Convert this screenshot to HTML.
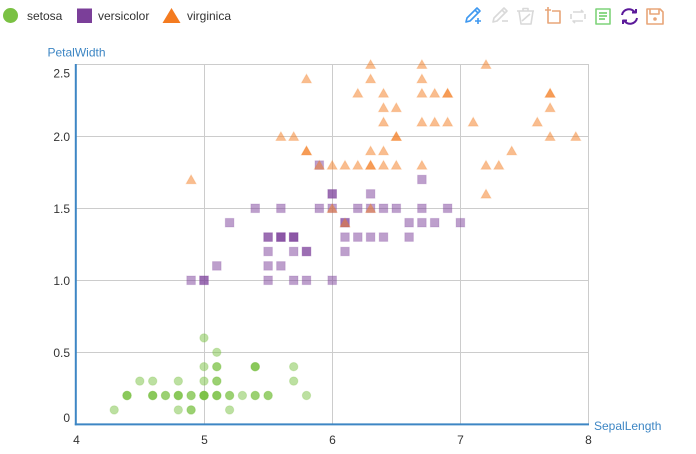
<!DOCTYPE html>
<html><head><meta charset="utf-8"><style>
html,body{margin:0;padding:0;background:#fff;}
svg{display:block;font-family:"Liberation Sans",sans-serif;}
.s{fill:#7ac143;fill-opacity:.5;stroke:#7ac143;stroke-opacity:.25;stroke-width:1}
.v{fill:#7b3f99;fill-opacity:.5;stroke:#7b3f99;stroke-opacity:.2;stroke-width:1}
.g{fill:#f47b20;fill-opacity:.5;stroke:#f47b20;stroke-opacity:.2;stroke-width:1}
</style></head><body>
<svg width="696" height="454" viewBox="0 0 696 454" xmlns="http://www.w3.org/2000/svg">
<defs>
<circle id="c" cx="0" cy="0" r="4.2"/>
<rect id="q" x="-4.3" y="-4.3" width="8.6" height="8.6"/>
<path id="t" d="M0,-4.6 L5,4.2 L-5,4.2 Z"/>
</defs>
<!-- legend -->
<circle cx="10.5" cy="15.5" r="7.5" fill="#7ac143"/>
<text x="27" y="20" font-size="12" fill="#333">setosa</text>
<rect x="77" y="8.5" width="15" height="14.5" fill="#7b3f99"/>
<text x="98" y="20" font-size="12" fill="#333">versicolor</text>
<path d="M171.5,8 L180.5,23 L162.5,23 Z" fill="#f47b20"/>
<text x="187" y="20" font-size="12" fill="#333">virginica</text>
<!-- toolbar -->
<g fill="none" stroke-width="1.6" stroke-linejoin="round">
<g stroke="#3e98f0"><path d="M466,22 L467,18 L477,8 L480,11 L470,21 Z M475,10 L478,13 M466,22 L469.5,21"/><path d="M478,18 V24 M475,21 H481"/></g>
<g stroke="#d9d9d9"><path d="M493,22 L494,18 L504,8 L507,11 L497,21 Z M502,10 L505,13"/><path d="M502,21 H508"/></g>
<g stroke="#d9d9d9"><path d="M517,11 H534 M523,11 V8.5 H528 V11 M519,11 L521,24 H531 L533,11 M522,21 L530,14"/></g>
<g stroke="#e8a578"><path d="M548,12 V23 H560 V11 H552 M545,10 H551 M548,7 V13"/></g>
<g stroke="#d9d9d9"><path d="M573,12 H583 L581,10 M583,21 H573 L575,23 M571,14 V19 M585,14 V19"/></g>
<g stroke="#7fd37a"><rect x="596" y="9" width="14" height="15"/><path d="M599,13 H607 M599,16 H607 M599,19 H605" stroke-width="1.8"/></g>
<g stroke="#5b1a9a" stroke-width="2"><path d="M622,15 A7,6.5 0 0 1 635,12.5 M637,18 A7,6.5 0 0 1 624,20.5"/><path d="M632,12.5 H636 V9 M627,20.5 H623 V24"/></g>
<g stroke="#e8a578"><path d="M647,9 H660 L663,12 V24 H647 Z M650,9 V14 H659 V9"/><circle cx="655" cy="19" r="1" fill="#e8a578"/></g>
</g>
<!-- grid -->
<g stroke="#cccccc" stroke-width="1" fill="none">
<path d="M76,64.5 H589 M76,136.5 H589 M76,208.5 H589 M76,280.5 H589 M76,352.5 H589"/>
<path d="M204.5,64 V424 M332.5,64 V424 M460.5,64 V424 M588.5,64 V424"/>
</g>
<!-- axes -->
<path d="M75.8,64 V425.3" stroke="#3d86c4" stroke-width="2"/>
<path d="M74.8,424.4 H589" stroke="#3d86c4" stroke-width="2"/>
<g font-size="12" fill="#333" text-anchor="end">
<text x="70" y="77.5">2.5</text>
<text x="70" y="140.8">2.0</text>
<text x="70" y="212.8">1.5</text>
<text x="70" y="284.8">1.0</text>
<text x="70" y="356.8">0.5</text>
<text x="70" y="421.8">0</text>
</g>
<g font-size="12" fill="#333" text-anchor="middle">
<text x="76.5" y="444">4</text>
<text x="204.5" y="444">5</text>
<text x="332.5" y="444">6</text>
<text x="460.5" y="444">7</text>
<text x="588.5" y="444">8</text>
</g>
<text x="76.5" y="56.5" font-size="12" fill="#3d86c4" text-anchor="middle">PetalWidth</text>
<text x="594" y="430" font-size="12" fill="#3d86c4">SepalLength</text>
<!-- setosa -->
<g class="s">
<use href="#c" x="216.8" y="395.5"/><use href="#c" x="191.1" y="395.5"/><use href="#c" x="165.5" y="395.5"/><use href="#c" x="152.7" y="395.5"/><use href="#c" x="204" y="395.5"/>
<use href="#c" x="255.2" y="366.7"/><use href="#c" x="152.7" y="381.1"/><use href="#c" x="204" y="395.5"/><use href="#c" x="127" y="395.5"/><use href="#c" x="191.1" y="409.9"/>
<use href="#c" x="255.2" y="395.5"/><use href="#c" x="178.3" y="395.5"/><use href="#c" x="178.3" y="409.9"/><use href="#c" x="114.2" y="409.9"/><use href="#c" x="306.5" y="395.5"/>
<use href="#c" x="293.7" y="366.7"/><use href="#c" x="255.2" y="366.7"/><use href="#c" x="216.8" y="381.1"/><use href="#c" x="293.7" y="381.1"/><use href="#c" x="216.8" y="381.1"/>
<use href="#c" x="255.2" y="395.5"/><use href="#c" x="216.8" y="366.7"/><use href="#c" x="152.7" y="395.5"/><use href="#c" x="216.8" y="352.3"/><use href="#c" x="178.3" y="395.5"/>
<use href="#c" x="204" y="395.5"/><use href="#c" x="204" y="366.7"/><use href="#c" x="229.6" y="395.5"/><use href="#c" x="229.6" y="395.5"/><use href="#c" x="165.5" y="395.5"/>
<use href="#c" x="178.3" y="395.5"/><use href="#c" x="255.2" y="366.7"/><use href="#c" x="229.6" y="409.9"/><use href="#c" x="268.1" y="395.5"/><use href="#c" x="191.1" y="395.5"/>
<use href="#c" x="204" y="395.5"/><use href="#c" x="268.1" y="395.5"/><use href="#c" x="191.1" y="409.9"/><use href="#c" x="127" y="395.5"/><use href="#c" x="216.8" y="395.5"/>
<use href="#c" x="204" y="381.1"/><use href="#c" x="139.8" y="381.1"/><use href="#c" x="127" y="395.5"/><use href="#c" x="204" y="337.9"/><use href="#c" x="216.8" y="366.7"/>
<use href="#c" x="178.3" y="381.1"/><use href="#c" x="216.8" y="395.5"/><use href="#c" x="152.7" y="395.5"/><use href="#c" x="242.4" y="395.5"/><use href="#c" x="204" y="395.5"/>
</g>
<!-- versicolor -->
<g class="v">
<use href="#q" x="460.4" y="222.7"/><use href="#q" x="383.5" y="208.3"/><use href="#q" x="447.6" y="208.3"/><use href="#q" x="268.1" y="237.1"/><use href="#q" x="396.3" y="208.3"/>
<use href="#q" x="293.7" y="237.1"/><use href="#q" x="370.6" y="193.9"/><use href="#q" x="191.1" y="280.3"/><use href="#q" x="409.1" y="237.1"/><use href="#q" x="229.6" y="222.7"/>
<use href="#q" x="204" y="280.3"/><use href="#q" x="319.3" y="208.3"/><use href="#q" x="332.2" y="280.3"/><use href="#q" x="345" y="222.7"/><use href="#q" x="280.9" y="237.1"/>
<use href="#q" x="421.9" y="222.7"/><use href="#q" x="280.9" y="208.3"/><use href="#q" x="306.5" y="280.3"/><use href="#q" x="357.8" y="208.3"/><use href="#q" x="280.9" y="265.9"/>
<use href="#q" x="319.3" y="165.1"/><use href="#q" x="345" y="237.1"/><use href="#q" x="370.6" y="208.3"/><use href="#q" x="345" y="251.5"/><use href="#q" x="383.5" y="237.1"/>
<use href="#q" x="409.1" y="222.7"/><use href="#q" x="434.7" y="222.7"/><use href="#q" x="421.9" y="179.5"/><use href="#q" x="332.2" y="208.3"/><use href="#q" x="293.7" y="280.3"/>
<use href="#q" x="268.1" y="265.9"/><use href="#q" x="268.1" y="280.3"/><use href="#q" x="306.5" y="251.5"/><use href="#q" x="332.2" y="193.9"/><use href="#q" x="255.2" y="208.3"/>
<use href="#q" x="332.2" y="193.9"/><use href="#q" x="421.9" y="208.3"/><use href="#q" x="370.6" y="237.1"/><use href="#q" x="280.9" y="237.1"/><use href="#q" x="268.1" y="237.1"/>
<use href="#q" x="268.1" y="251.5"/><use href="#q" x="345" y="222.7"/><use href="#q" x="306.5" y="251.5"/><use href="#q" x="204" y="280.3"/><use href="#q" x="280.9" y="237.1"/>
<use href="#q" x="293.7" y="251.5"/><use href="#q" x="293.7" y="237.1"/><use href="#q" x="357.8" y="237.1"/><use href="#q" x="216.8" y="265.9"/><use href="#q" x="293.7" y="237.1"/>
</g>
<!-- virginica -->
<g class="g">
<use href="#t" x="370.6" y="64.3"/><use href="#t" x="306.5" y="150.7"/><use href="#t" x="473.2" y="121.9"/><use href="#t" x="370.6" y="165.1"/><use href="#t" x="396.3" y="107.5"/>
<use href="#t" x="537.3" y="121.9"/><use href="#t" x="191.1" y="179.5"/><use href="#t" x="498.8" y="165.1"/><use href="#t" x="421.9" y="165.1"/><use href="#t" x="486" y="64.3"/>
<use href="#t" x="396.3" y="136.3"/><use href="#t" x="383.5" y="150.7"/><use href="#t" x="434.7" y="121.9"/><use href="#t" x="293.7" y="136.3"/><use href="#t" x="306.5" y="78.7"/>
<use href="#t" x="383.5" y="93.1"/><use href="#t" x="396.3" y="165.1"/><use href="#t" x="550.1" y="107.5"/><use href="#t" x="550.1" y="93.1"/><use href="#t" x="332.2" y="208.3"/>
<use href="#t" x="447.6" y="93.1"/><use href="#t" x="280.9" y="136.3"/><use href="#t" x="550.1" y="136.3"/><use href="#t" x="370.6" y="165.1"/><use href="#t" x="421.9" y="121.9"/>
<use href="#t" x="486" y="165.1"/><use href="#t" x="357.8" y="165.1"/><use href="#t" x="345" y="165.1"/><use href="#t" x="383.5" y="121.9"/><use href="#t" x="486" y="193.9"/>
<use href="#t" x="511.7" y="150.7"/><use href="#t" x="575.8" y="136.3"/><use href="#t" x="383.5" y="107.5"/><use href="#t" x="370.6" y="208.3"/><use href="#t" x="345" y="222.7"/>
<use href="#t" x="550.1" y="93.1"/><use href="#t" x="370.6" y="78.7"/><use href="#t" x="383.5" y="165.1"/><use href="#t" x="332.2" y="165.1"/><use href="#t" x="447.6" y="121.9"/>
<use href="#t" x="421.9" y="78.7"/><use href="#t" x="447.6" y="93.1"/><use href="#t" x="306.5" y="150.7"/><use href="#t" x="434.7" y="93.1"/><use href="#t" x="421.9" y="64.3"/>
<use href="#t" x="421.9" y="93.1"/><use href="#t" x="370.6" y="150.7"/><use href="#t" x="396.3" y="136.3"/><use href="#t" x="357.8" y="93.1"/><use href="#t" x="319.3" y="165.1"/>
</g>
</svg>
</body></html>
